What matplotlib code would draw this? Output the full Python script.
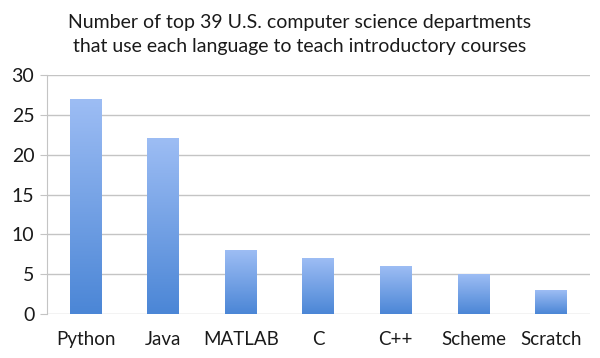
import matplotlib
matplotlib.use("Agg")
import matplotlib.pyplot as plt
import numpy as np
from matplotlib.colors import LinearSegmentedColormap

languages = ["Python", "Java", "MATLAB", "C", "C++", "Scheme", "Scratch"]
departments = [27, 22, 8, 7, 6, 5, 3]
yticks = [0, 5, 10, 15, 20, 25, 30]

plt.rcParams['font.family'] = ['Lato', 'DejaVu Sans']

fig = plt.figure(figsize=(6, 3.58), dpi=100)
ax = fig.add_axes([0.078, 0.123, 0.905, 0.667])

x = np.arange(len(languages))
bars = ax.bar(x, departments, width=0.41, color='none', edgecolor='none', zorder=3)

# vertical gradient: lighter at top, darker at bottom
cmap = LinearSegmentedColormap.from_list("bluegrad", ["#4b86d6", "#9dbdf4"])
grad = np.linspace(0, 1, 256).reshape(-1, 1)
for b in bars:
    x0, y0 = b.get_x(), b.get_y()
    w, h = b.get_width(), b.get_height()
    ax.imshow(grad, cmap=cmap, origin='lower', aspect='auto',
              extent=(x0, x0 + w, y0, y0 + h), zorder=3)

ax.set_xlim(-0.5, len(languages) - 0.5)
ax.set_ylim(0, 30)
ax.set_yticks(yticks)
ax.set_xticks(x)
ax.set_xticklabels(languages)
ax.yaxis.grid(True, color='#c4c4c4', linewidth=1)
ax.set_axisbelow(True)

for side in ['top', 'right', 'bottom']:
    ax.spines[side].set_visible(False)
ax.spines['left'].set_color('#c4c4c4')
ax.tick_params(axis='y', length=5, color='#c4c4c4', labelsize=14, pad=4,
               labelcolor='#1a1a1a')
ax.tick_params(axis='x', length=0, labelsize=13.5, pad=12, labelcolor='#1a1a1a')

fig.text(0.5, 0.905, "Number of top 39 U.S. computer science departments\n"
         "that use each language to teach introductory courses",
         ha='center', va='center', fontsize=14, linespacing=1.5, color='#1a1a1a')

fig.savefig("out.png", dpi=100)
